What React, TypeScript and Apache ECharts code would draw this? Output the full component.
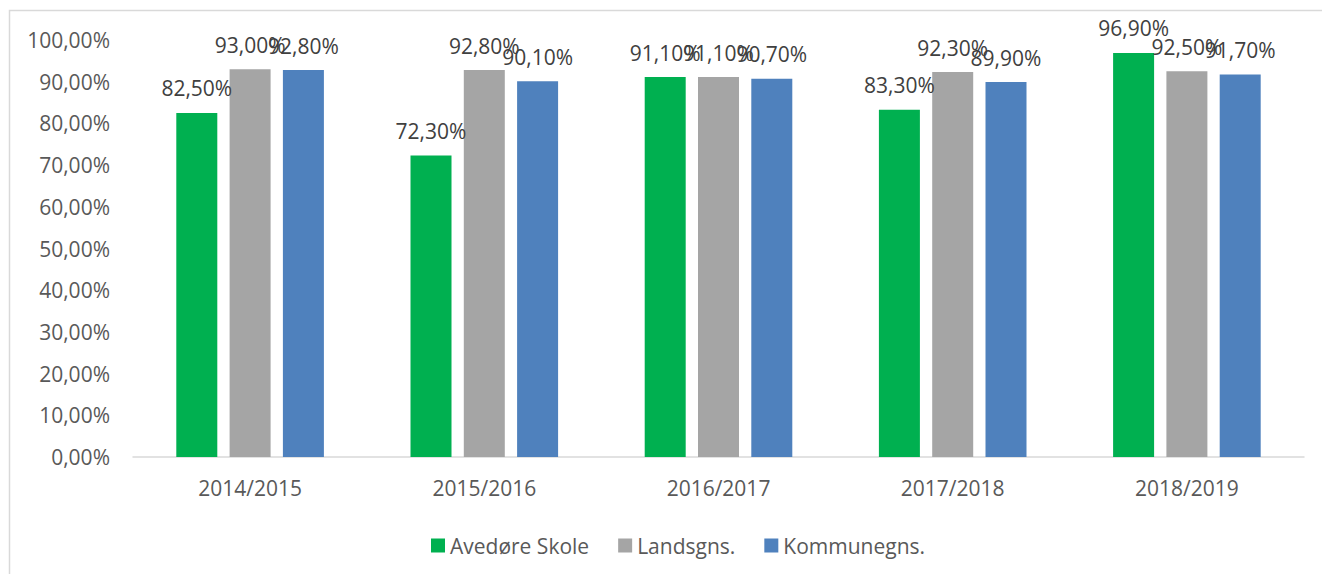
import React, { useEffect, useRef } from "react";
import * as echarts from "echarts";

const categories = ["2014/2015", "2015/2016", "2016/2017", "2017/2018", "2018/2019"];
const seriesNames = ["Avedøre Skole", "Landsgns.", "Kommunegns."];
const avedoreValues = [82.5, 72.3, 91.1, 83.3, 96.9];
const landsValues = [93.0, 92.8, 91.1, 92.3, 92.5];
const kommuneValues = [92.8, 90.1, 90.7, 89.9, 91.7];
const seriesColors = ["#00B050", "#A5A5A5", "#4F81BD"];

const FONT = "'Open Sans', 'Liberation Sans', sans-serif";
const fmt = (v: number) => v.toFixed(2).replace(".", ",") + "%";

export default function App() {
  const ref = useRef<HTMLDivElement>(null);
  useEffect(() => {
    if (!ref.current) return;
    const chart = echarts.init(ref.current, null, { renderer: "svg" });
    const data = [avedoreValues, landsValues, kommuneValues];
    chart.setOption({
      animation: false,
      backgroundColor: "#ffffff",
      textStyle: { fontFamily: FONT },
      grid: { left: 133, right: 18, top: 40, bottom: 117, containLabel: false },
      legend: {
        left: 426,
        top: 530,
        icon: "rect",
        itemWidth: 14,
        itemHeight: 14,
        itemGap: 29,
        textStyle: { fontFamily: FONT, fontSize: 21, color: "#595959" },
        data: seriesNames,
      },
      graphic: [
        {
          type: "polyline",
          shape: { points: [[9.5, 574], [9.5, 10.5], [1322, 10.5]] },
          style: { stroke: "#D9D9D9", lineWidth: 1.5, fill: "none" },
          silent: true,
        },
      ],
      xAxis: {
        type: "category",
        data: categories,
        axisLine: { lineStyle: { color: "#D9D9D9", width: 1.5 } },
        axisTick: { show: false },
        axisLabel: { fontFamily: FONT, fontSize: 21, color: "#595959", margin: 20 },
      },
      yAxis: {
        type: "value",
        min: 0,
        max: 100,
        interval: 10,
        axisLine: { show: false },
        axisTick: { show: false },
        splitLine: { show: false },
        axisLabel: {
          fontFamily: FONT,
          fontSize: 21,
          color: "#595959",
          margin: 23,
          formatter: (v: number) => fmt(v),
        },
      },
      series: seriesNames.map((name, i) => ({
        name,
        type: "bar",
        data: data[i],
        barWidth: 41,
        barGap: "30%",
        itemStyle: { color: seriesColors[i] },
        label: {
          show: true,
          position: "top",
          distance: 14,
          fontFamily: FONT,
          fontSize: 21,
          color: "#404040",
          formatter: (p: any) => fmt(p.value),
        },
      })),
    });
    return () => chart.dispose();
  }, []);
  return (
    <div
      ref={ref}
      style={{ position: "fixed", left: 0, top: 0, width: 1322, height: 574, background: "#fff" }}
    />
  );
}
